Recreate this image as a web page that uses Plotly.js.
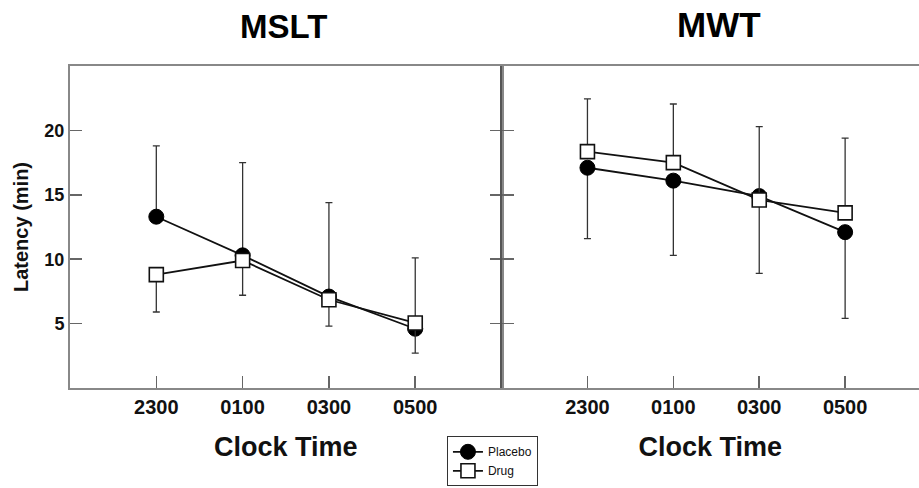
<!DOCTYPE html>
<html>
<head>
<meta charset="utf-8">
<script src="https://cdn.plot.ly/plotly-3.0.1.min.js"></script>
<style>html,body{margin:0;padding:0;background:#fff;}#chart{width:919px;height:488px;}</style>
</head>
<body>
<div id="chart"></div>
<script>
// ---- data ----
var clockTimes = ['2300', '0100', '0300', '0500'];
var yTicks = [5, 10, 15, 20];

// MSLT panel
var msltPlacebo = [13.3, 10.3, 7.1, 4.6];
var msltPlaceboErrUp = [5.5, 7.2, 7.3, 5.5];
var msltPlaceboErrDown = [0, 0, 0, 0];
var msltDrug = [8.8, 9.9, 6.85, 5.05];
var msltDrugErrUp = [0, 0, 0, 0];
var msltDrugErrDown = [2.9, 2.7, 2.05, 2.35];

// MWT panel
var mwtPlacebo = [17.1, 16.1, 14.9, 12.1];
var mwtPlaceboErrUp = [0, 0, 0, 0];
var mwtPlaceboErrDown = [5.5, 5.8, 6.0, 6.7];
var mwtDrug = [18.35, 17.5, 14.6, 13.6];
var mwtDrugErrUp = [4.1, 4.55, 5.7, 5.8];
var mwtDrugErrDown = [0, 0, 0, 0];

var FONT = 'Liberation Sans, Arial, sans-serif';

function errY(up, down) {
  return {type: 'data', symmetric: false, array: up, arrayminus: down,
          color: '#333', thickness: 1.3, width: 3.5};
}
function placeboTrace(y, up, down, xa, ya, show) {
  return {x: clockTimes, y: y, xaxis: xa, yaxis: ya, name: 'Placebo', showlegend: show,
    type: 'scatter', mode: 'lines+markers',
    line: {color: '#111', width: 1.8},
    marker: {symbol: 'circle', size: 15, color: '#000', line: {color: '#000', width: 1}},
    error_y: errY(up, down)};
}
function drugTrace(y, up, down, xa, ya, show) {
  return {x: clockTimes, y: y, xaxis: xa, yaxis: ya, name: 'Drug', showlegend: show,
    type: 'scatter', mode: 'lines+markers',
    line: {color: '#111', width: 1.8},
    marker: {symbol: 'square', size: 14, color: '#fff', line: {color: '#111', width: 1.6}},
    error_y: errY(up, down)};
}

var traces = [
  placeboTrace(msltPlacebo, msltPlaceboErrUp, msltPlaceboErrDown, 'x', 'y', true),
  drugTrace(msltDrug, msltDrugErrUp, msltDrugErrDown, 'x', 'y', true),
  placeboTrace(mwtPlacebo, mwtPlaceboErrUp, mwtPlaceboErrDown, 'x2', 'y2', false),
  drugTrace(mwtDrug, mwtDrugErrUp, mwtDrugErrDown, 'x2', 'y2', false)
];

var tickFont = {family: FONT, size: 20, color: '#111', weight: 'bold'};
var xTitleFont = {family: FONT, size: 27, color: '#111', weight: 'bold'};

function xAxis(domain, range, anchor) {
  return {domain: domain, anchor: anchor, type: 'category', categoryorder: 'array',
    categoryarray: clockTimes, range: range,
    ticks: 'inside', ticklen: 12, tickwidth: 1.5, tickcolor: '#666',
    showline: true, linecolor: '#888', linewidth: 2, mirror: true,
    showgrid: false, zeroline: false, tickfont: tickFont,
    title: {text: 'Clock Time', font: xTitleFont, standoff: 20}};
}

var layout = {
  width: 919, height: 488,
  margin: {l: 70, r: 0, t: 66, b: 100},
  paper_bgcolor: '#fff', plot_bgcolor: '#fff',
  font: {family: FONT, color: '#111'},
  showlegend: true,
  legend: {x: 0.444, y: -0.15, xanchor: 'left', yanchor: 'top',
    bordercolor: '#333', borderwidth: 1, bgcolor: '#fff',
    font: {family: FONT, size: 12, color: '#111'}, tracegroupgap: 0},
  xaxis: xAxis([0, 0.5083], [-1, 4], 'y'),
  xaxis2: xAxis([0.5083, 1], [-1, 3.86], 'y2'),
  yaxis: {domain: [0, 1], anchor: 'x', range: [0, 25], tickvals: yTicks,
    ticks: 'inside', ticklen: 12, tickwidth: 1.5, tickcolor: '#666',
    showline: true, linecolor: '#888', linewidth: 2, mirror: 'ticks',
    showgrid: false, zeroline: false, tickfont: {family: FONT, size: 18, color: '#111', weight: 'bold'},
    title: {text: 'Latency (min)', font: {family: FONT, size: 20, color: '#111', weight: 'bold'}, standoff: 10}},
  yaxis2: {domain: [0, 1], anchor: 'x2', range: [0, 25], tickvals: yTicks,
    ticks: 'inside', ticklen: 12, tickwidth: 1.5, tickcolor: '#666',
    showline: true, linecolor: '#555', linewidth: 2, mirror: false,
    showgrid: false, zeroline: false, showticklabels: false},
  annotations: [
    {text: 'MSLT', xref: 'paper', yref: 'paper', x: 0.2512, y: 1.1227,
     xanchor: 'center', yanchor: 'middle', showarrow: false,
     font: {family: FONT, size: 33, color: '#000', weight: 'bold'}},
    {text: 'MWT', xref: 'paper', yref: 'paper', x: 0.764, y: 1.1304,
     xanchor: 'center', yanchor: 'middle', showarrow: false,
     font: {family: FONT, size: 35, color: '#000', weight: 'bold'}}
  ]
};

Plotly.newPlot('chart', traces, layout, {displayModeBar: false, staticPlot: true});
</script>
</body>
</html>
